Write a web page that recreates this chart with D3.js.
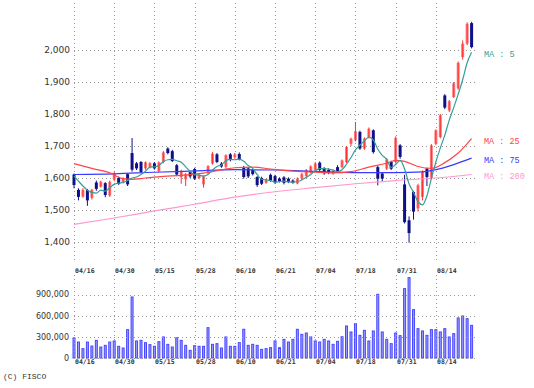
<!DOCTYPE html>
<html>
<head>
<meta charset="utf-8">
<script src="https://cdn.jsdelivr.net/npm/d3@7"></script>
<style>
  body { margin: 0; background: #fff; }
  svg { display: block; }
</style>
</head>
<body>
<div id="chart"></div>
<script>
// trading days shown (2024)
var dates = [
  "04/16","04/17","04/18","04/19","04/22","04/23","04/24","04/25","04/26","04/30",
  "05/01","05/02","05/07","05/08","05/09","05/10","05/13","05/14","05/15","05/16",
  "05/17","05/20","05/21","05/22","05/23","05/24","05/27","05/28","05/29","05/30",
  "05/31","06/03","06/04","06/05","06/06","06/07","06/10","06/11","06/12","06/13",
  "06/14","06/17","06/18","06/19","06/20","06/21","06/24","06/25","06/26","06/27",
  "06/28","07/01","07/02","07/03","07/04","07/05","07/08","07/09","07/10","07/11",
  "07/12","07/16","07/17","07/18","07/19","07/22","07/23","07/24","07/25","07/26",
  "07/29","07/30","07/31","08/01","08/02","08/05","08/06","08/07","08/08","08/09",
  "08/13","08/14","08/15","08/16","08/19","08/20","08/21","08/22","08/23","08/26"
];

var opens = [
  1611,1563,1542,1562,1538,1586,1573,1584,1545,1595,
  1600,1586,1612,1678,1646,1650,1630,1634,1646,1622,
  1650,1692,1684,1640,1603,1596,1618,1628,1600,1580,
  1616,1645,1674,1645,1635,1674,1665,1675,1634,1630,
  1625,1603,1600,1585,1610,1606,1598,1602,1598,1592,
  1583,1598,1606,1618,1625,1648,1630,1625,1614,1634,
  1634,1650,1707,1718,1744,1692,1728,1749,1634,1614,
  1629,1650,1650,1702,1580,1468,1556,1505,1541,1629,
  1600,1707,1728,1858,1811,1853,1880,1978,2020,2084
];
var highs = [
  1614,1568,1568,1566,1566,1592,1592,1587,1592,1620,
  1604,1602,1615,1725,1650,1653,1652,1650,1650,1652,
  1684,1696,1688,1644,1626,1616,1622,1632,1614,1608,
  1640,1681,1678,1650,1674,1678,1678,1680,1638,1634,
  1628,1606,1604,1598,1614,1610,1602,1606,1602,1596,
  1602,1616,1628,1640,1650,1652,1634,1630,1626,1640,
  1658,1700,1726,1775,1748,1727,1758,1752,1638,1618,
  1662,1654,1730,1706,1610,1480,1560,1582,1624,1632,
  1706,1752,1800,1862,1844,1900,1964,2030,2086,2088
];
var lows = [
  1568,1530,1538,1513,1533,1560,1570,1540,1541,1590,
  1578,1583,1575,1620,1625,1615,1626,1630,1626,1618,
  1646,1674,1650,1606,1582,1575,1600,1594,1596,1570,
  1612,1642,1646,1632,1630,1652,1660,1655,1598,1600,
  1608,1572,1578,1582,1588,1582,1586,1580,1584,1582,
  1580,1594,1602,1614,1620,1620,1610,1612,1610,1616,
  1630,1646,1700,1714,1688,1688,1724,1676,1577,1590,
  1625,1625,1646,1660,1458,1398,1470,1495,1530,1575,
  1596,1703,1724,1815,1806,1850,1876,1970,2015,2005
];
var closes = [
  1578,1541,1563,1530,1563,1566,1588,1547,1588,1613,
  1582,1599,1580,1626,1630,1619,1649,1646,1630,1649,
  1680,1678,1653,1611,1622,1612,1605,1598,1610,1605,
  1637,1676,1650,1636,1671,1656,1674,1658,1603,1605,
  1612,1578,1582,1595,1592,1586,1590,1585,1588,1586,
  1598,1612,1625,1636,1645,1625,1615,1617,1623,1621,
  1655,1697,1723,1746,1692,1723,1754,1681,1598,1598,
  1658,1629,1725,1666,1462,1428,1495,1577,1619,1603,
  1702,1749,1796,1820,1840,1896,1960,2020,2082,2009
];
var volumes = [
  286000,227000,133000,227000,170000,251000,156000,180000,227000,242000,
  166000,142000,403000,867000,242000,251000,218000,190000,166000,232000,
  299000,194000,156000,287000,251000,180000,109000,175000,166000,166000,
  431000,194000,204000,142000,299000,166000,166000,218000,408000,180000,
  194000,180000,123000,133000,147000,242000,147000,265000,227000,265000,
  408000,336000,355000,299000,242000,227000,265000,242000,194000,237000,
  302000,455000,370000,488000,322000,393000,242000,384000,905000,370000,
  265000,204000,355000,318000,986000,1142000,687000,417000,384000,322000,
  403000,403000,370000,417000,299000,346000,569000,597000,559000,464000
];

// moving averages
var ma5 = [
  1606,1590,1575,1562,1555,1553,1562,1559,1570,1580,
  1584,1586,1592,1600,1603,1611,1621,1634,1635,1639,
  1651,1657,1658,1654,1649,1635,1621,1610,1609,1606,
  1611,1625,1636,1641,1654,1658,1657,1659,1652,1639,
  1630,1611,1596,1594,1592,1587,1589,1590,1588,1587,
  1589,1594,1602,1611,1623,1629,1629,1628,1625,1620,
  1626,1643,1664,1688,1703,1716,1728,1719,1690,1671,
  1658,1633,1642,1655,1628,1582,1555,1526,1516,1544,
  1599,1650,1694,1734,1781,1820,1862,1907,1960,1993
];
// [bar index, value]
var ma25 = [
  [0,1645],[4,1630],[8,1616],[11,1598],[13,1596],[16,1600],[20,1605],[24,1608],
  [29,1615],[33,1625],[36,1632],[40,1634],[44,1628],[48,1622],[54,1618],[58,1616],
  [62,1620],[66,1634],[70,1646],[72,1655],[74,1652],[77,1636],[80,1630],[83,1648],
  [86,1678],[89,1723]
];
var ma75 = [
  [0,1611],[9,1613],[18,1618],[27,1622],[36,1626],[45,1625],[54,1621],[63,1617],
  [72,1617],[78,1619],[81,1626],[85,1642],[89,1662]
];
var ma200 = [
  [0,1455],[9,1475],[18,1497],[27,1518],[36,1540],[45,1557],[54,1570],[63,1582],
  [72,1592],[81,1600],[89,1611]
];

var tickDates = ["04/16","04/30","05/15","05/28","06/10","06/21","07/04","07/18","07/31","08/14"];
var priceTicks = [1400,1500,1600,1700,1800,1900,2000];
var volumeTicks = [0,300000,600000,900000];

var width = 534, height = 388;
var left = 74, right = 475;
var priceTop = 3, priceBottom = 263;
var volTop = 275, volBottom = 358;

var svg = d3.select("#chart").append("svg")
    .attr("width", width)
    .attr("height", height);

var x = d3.scalePoint()
    .domain(dates)
    .range([74, 471.6]);

var y = d3.scaleLinear()
    .domain([1337.5, 2150])
    .range([262, 2]);

var yv = d3.scaleLinear()
    .domain([0, 1175000])
    .range([358, 275.3]);

var gridColor = "#999";
var dash = "1,3";

// ---- price panel grid
var grid = svg.append("g");
grid.selectAll(".hp").data(priceTicks).enter().append("line")
    .attr("x1", left).attr("x2", right)
    .attr("y1", function(d) { return Math.round(y(d)) + 0.5; })
    .attr("y2", function(d) { return Math.round(y(d)) + 0.5; })
    .attr("stroke", gridColor).attr("stroke-dasharray", dash);
grid.selectAll(".vp").data(tickDates).enter().append("line")
    .attr("x1", function(d) { return Math.round(x(d)) + 0.5; })
    .attr("x2", function(d) { return Math.round(x(d)) + 0.5; })
    .attr("y1", priceTop).attr("y2", priceBottom)
    .attr("stroke", gridColor).attr("stroke-dasharray", dash);

svg.append("g").selectAll("text").data(priceTicks).enter().append("text")
    .attr("x", 70).attr("y", function(d) { return y(d); })
    .attr("dy", "0.35em")
    .attr("text-anchor", "end")
    .style("font", "9px 'DejaVu Sans'")
    .attr("fill", "#333")
    .text(d3.format(","));

svg.append("g").selectAll("text").data(tickDates).enter().append("text")
    .attr("x", function(d) { return Math.round(x(d)) + 1; })
    .attr("y", 271).attr("dy", "0.35em")
    .style("font", "bold 6.5px 'DejaVu Sans Mono'")
    .attr("fill", "#333")
    .text(function(d) { return d; });

// ---- candles
var idx = d3.range(dates.length);
var candles = svg.append("g");
candles.selectAll("rect").data(idx).enter().append("rect")
    .attr("x", function(i) { return x(dates[i]) - 1.5; })
    .attr("width", 3)
    .attr("y", function(i) { return y(Math.max(opens[i], closes[i])); })
    .attr("height", function(i) { return Math.max(1, Math.abs(y(opens[i]) - y(closes[i]))); })
    .attr("fill", function(i) { return closes[i] >= opens[i] ? "#ff7b7b" : "#10108a"; });
candles.selectAll("line").data(idx).enter().append("line")
    .attr("x1", function(i) { return x(dates[i]); })
    .attr("x2", function(i) { return x(dates[i]); })
    .attr("y1", function(i) { return y(highs[i]); })
    .attr("y2", function(i) { return y(lows[i]); })
    .attr("stroke", function(i) { return closes[i] >= opens[i] ? "#ff3030" : "#10108a"; })
    .attr("stroke-width", 1);

// ---- moving averages
var maLine = d3.line()
    .x(function(d) { return x(dates[d[0]]); })
    .y(function(d) { return y(d[1]); })
    .curve(d3.curveMonotoneX);

var maSeries = [
  { label: "MA : 200", color: "#ff99cc", pts: ma200 },
  { label: "MA : 75", color: "#3a3aff", pts: ma75 },
  { label: "MA : 25", color: "#ff4545", pts: ma25 },
  { label: "MA : 5", color: "#349f98", pts: ma5.map(function(v, i) { return [i, v]; }) }
];

svg.append("g").selectAll("path").data(maSeries).enter().append("path")
    .attr("d", function(s) { return maLine(s.pts); })
    .attr("fill", "none")
    .attr("stroke", function(s) { return s.color; })
    .attr("stroke-width", 1.2);

svg.append("g").selectAll("text").data(maSeries).enter().append("text")
    .attr("x", 484)
    .attr("y", function(s) { return y(s.pts[s.pts.length - 1][1]) + 2; })
    .attr("dy", "0.35em")
    .style("font", "8.5px 'Liberation Mono'")
    .attr("fill", function(s) { return s.color; })
    .text(function(s) { return s.label; });

// ---- volume panel
svg.append("g").selectAll("rect").data(idx).enter().append("rect")
    .attr("x", function(i) { return x(dates[i]) - 1; })
    .attr("width", 2)
    .attr("y", function(i) { return yv(volumes[i]); })
    .attr("height", function(i) { return yv(0) - yv(volumes[i]); })
    .attr("fill", "#9a9aff")
    .attr("stroke", "#4848ff")
    .attr("stroke-width", 1);

var vgrid = svg.append("g");
vgrid.selectAll(".hv").data(volumeTicks).enter().append("line")
    .attr("x1", left).attr("x2", right)
    .attr("y1", function(d) { return Math.round(yv(d)) + 0.5; })
    .attr("y2", function(d) { return Math.round(yv(d)) + 0.5; })
    .attr("stroke", gridColor).attr("stroke-dasharray", dash);
vgrid.selectAll(".vv").data(tickDates).enter().append("line")
    .attr("x1", function(d) { return Math.round(x(d)) + 0.5; })
    .attr("x2", function(d) { return Math.round(x(d)) + 0.5; })
    .attr("y1", volTop).attr("y2", volBottom)
    .attr("stroke", gridColor).attr("stroke-dasharray", dash);

svg.append("g").selectAll("text").data(volumeTicks).enter().append("text")
    .attr("x", 69).attr("y", function(d) { return yv(d); })
    .attr("dy", "0.35em")
    .attr("text-anchor", "end")
    .style("font", "8px 'DejaVu Sans'")
    .attr("fill", "#333")
    .text(d3.format(","));

svg.append("g").selectAll("text").data(tickDates).enter().append("text")
    .attr("x", function(d) { return Math.round(x(d)) + 1; })
    .attr("y", 362).attr("dy", "0.35em")
    .style("font", "bold 6.5px 'DejaVu Sans Mono'")
    .attr("fill", "#333")
    .text(function(d) { return d; });

svg.append("text")
    .attr("x", 3).attr("y", 376).attr("dy", "0.35em")
    .style("font", "8px 'Liberation Mono'")
    .attr("fill", "#333")
    .text("(C) FISCO");
</script>
</body>
</html>
